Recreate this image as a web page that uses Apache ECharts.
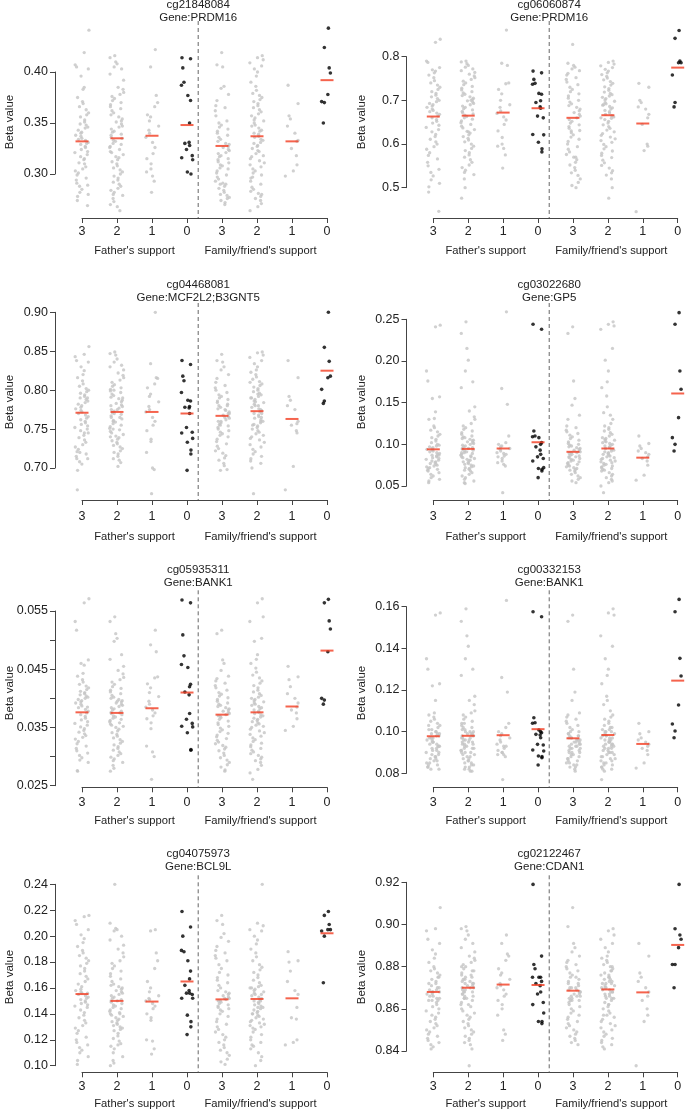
<!DOCTYPE html>
<html>
<head>
<meta charset="utf-8">
<script src="https://cdn.jsdelivr.net/npm/echarts@6/dist/echarts.min.js"></script>
<style>
html,body{margin:0;padding:0;background:#fff;}
#chart{width:685px;height:1111px;}
</style>
</head>
<body>
<div id="chart"></div>
<script>
// ---------------- DATA ----------------
const X_LABELS = ["3", "2", "1", "0", "3", "2", "1", "0"];
const X_TITLES = ["Father's support", "Family/friend's support"];
const Y_TITLE = "Beta value";
const PROBES = ["cg21848084", "cg06060874", "cg04468081", "cg03022680", "cg05935311", "cg00332153", "cg04075973", "cg02122467"];
const GENES = ["Gene:PRDM16", "Gene:PRDM16", "Gene:MCF2L2;B3GNT5", "Gene:GP5", "Gene:BANK1", "Gene:BANK1", "Gene:BCL9L", "Gene:CDAN1"];
const Y_MIN = [0.30, 0.5, 0.70, 0.05, 0.025, 0.08, 0.10, 0.84];
const Y_MAX = [0.40, 0.8, 0.90, 0.25, 0.055, 0.16, 0.24, 0.92];
const Y_STEP = [0.05, 0.1, 0.05, 0.05, 0.005, 0.02, 0.02, 0.02];
const Y_DEC = [2, 1, 2, 2, 3, 2, 2, 2];
const Y_LABEL_EVERY = [1, 1, 1, 1, 2, 1, 1, 1];

// Panel 1: cg21848084
const P1_F3 = [0.441,0.419,0.407,0.405,0.403,0.396,0.385,0.383,0.375,0.371,0.369,0.366,0.363,0.36,0.358,0.356,0.353,0.351,0.349,0.348,0.346,0.345,0.343,0.341,0.34,0.338,0.337,0.335,0.334,0.333,0.331,0.33,0.329,0.327,0.326,0.324,0.322,0.321,0.319,0.317,0.315,0.314,0.311,0.31,0.307,0.305,0.303,0.301,0.299,0.296,0.294,0.291,0.289,0.288,0.285,0.282,0.28,0.278,0.274,0.269];
const P1_F2 = [0.416,0.414,0.41,0.408,0.405,0.403,0.398,0.392,0.385,0.383,0.38,0.378,0.376,0.374,0.372,0.37,0.368,0.366,0.364,0.362,0.36,0.358,0.356,0.354,0.352,0.351,0.349,0.347,0.346,0.344,0.342,0.341,0.339,0.338,0.336,0.335,0.333,0.332,0.33,0.329,0.327,0.326,0.324,0.322,0.321,0.319,0.317,0.316,0.314,0.312,0.31,0.308,0.306,0.304,0.302,0.3,0.298,0.296,0.294,0.292,0.29,0.288,0.286,0.284,0.282,0.28,0.279,0.276,0.273,0.27,0.268,0.264];
const P1_F1 = [0.422,0.405,0.377,0.37,0.366,0.358,0.356,0.352,0.347,0.343,0.34,0.336,0.331,0.326,0.32,0.315,0.31,0.305,0.302,0.298,0.293,0.282];
const P1_F0 = [0.414,0.413,0.404,0.39,0.387,0.377,0.372,0.35,0.33,0.331,0.328,0.324,0.318,0.316,0.314,0.302,0.3];
const P1_S3 = [0.419,0.407,0.405,0.386,0.384,0.378,0.372,0.367,0.365,0.362,0.357,0.352,0.35,0.348,0.346,0.344,0.342,0.34,0.338,0.336,0.334,0.332,0.33,0.329,0.327,0.326,0.324,0.323,0.321,0.32,0.318,0.317,0.315,0.314,0.312,0.311,0.309,0.308,0.306,0.305,0.303,0.301,0.299,0.297,0.295,0.293,0.291,0.29,0.288,0.286,0.284,0.282,0.28,0.279,0.277,0.276,0.274,0.272,0.27,0.29];
const P1_S2 = [0.416,0.414,0.412,0.409,0.406,0.403,0.4,0.396,0.39,0.386,0.382,0.379,0.377,0.375,0.373,0.371,0.369,0.367,0.365,0.363,0.361,0.359,0.357,0.355,0.353,0.352,0.35,0.348,0.347,0.345,0.343,0.342,0.34,0.339,0.337,0.336,0.334,0.333,0.331,0.33,0.328,0.327,0.325,0.323,0.322,0.32,0.318,0.317,0.315,0.313,0.311,0.309,0.307,0.305,0.303,0.301,0.299,0.296,0.293,0.29,0.287,0.285,0.283,0.281,0.28,0.278,0.276,0.274,0.271,0.268,0.264,0.297];
const P1_S1 = [0.387,0.369,0.357,0.354,0.347,0.34,0.333,0.332,0.325,0.318,0.309,0.303,0.298];
const P1_S0 = [0.443,0.424,0.404,0.399,0.378,0.371,0.37,0.35];
const P1_MEAN = [0.332, 0.335, 0.3375, 0.348, 0.3275, 0.337, 0.332, 0.392];

// Panel 2: cg06060874
const P2_F3 = [0.84,0.833,0.79,0.787,0.775,0.77,0.767,0.763,0.758,0.752,0.745,0.74,0.735,0.73,0.725,0.72,0.716,0.712,0.708,0.704,0.7,0.697,0.693,0.69,0.687,0.684,0.68,0.677,0.674,0.671,0.668,0.664,0.66,0.656,0.652,0.648,0.643,0.638,0.633,0.628,0.622,0.617,0.611,0.605,0.6,0.594,0.588,0.58,0.574,0.566,0.558,0.55,0.542,0.535,0.527,0.518,0.51,0.502,0.49,0.446];
const P2_F2 = [0.79,0.788,0.784,0.78,0.776,0.772,0.768,0.764,0.76,0.756,0.752,0.748,0.744,0.74,0.736,0.732,0.728,0.724,0.72,0.717,0.714,0.711,0.708,0.705,0.702,0.699,0.696,0.693,0.69,0.687,0.684,0.681,0.678,0.675,0.672,0.669,0.666,0.663,0.66,0.657,0.653,0.649,0.645,0.641,0.637,0.633,0.629,0.625,0.621,0.617,0.613,0.609,0.605,0.6,0.595,0.59,0.585,0.58,0.575,0.57,0.564,0.558,0.552,0.546,0.54,0.535,0.53,0.52,0.5,0.476,0.628,0.7];
const P2_F1 = [0.861,0.785,0.78,0.74,0.738,0.725,0.715,0.7,0.69,0.684,0.676,0.67,0.662,0.655,0.645,0.63,0.615,0.6,0.595,0.59,0.575,0.545];
const P2_F0 = [0.767,0.763,0.748,0.739,0.737,0.716,0.714,0.699,0.695,0.685,0.682,0.664,0.66,0.622,0.621,0.604,0.589,0.582];
const P2_S3 = [0.828,0.785,0.78,0.776,0.772,0.768,0.762,0.758,0.752,0.748,0.742,0.736,0.73,0.725,0.72,0.715,0.71,0.705,0.7,0.696,0.692,0.688,0.684,0.68,0.676,0.672,0.668,0.664,0.66,0.656,0.652,0.648,0.644,0.64,0.636,0.631,0.626,0.621,0.616,0.611,0.606,0.6,0.594,0.588,0.582,0.576,0.57,0.564,0.558,0.552,0.546,0.54,0.534,0.528,0.52,0.512,0.505,0.5,0.57,0.63];
const P2_S2 = [0.79,0.787,0.783,0.779,0.775,0.771,0.767,0.763,0.759,0.755,0.751,0.747,0.743,0.739,0.735,0.731,0.727,0.723,0.719,0.716,0.713,0.71,0.707,0.704,0.701,0.698,0.695,0.692,0.689,0.686,0.683,0.68,0.677,0.674,0.671,0.668,0.665,0.662,0.659,0.656,0.652,0.648,0.644,0.64,0.636,0.632,0.628,0.624,0.62,0.616,0.612,0.608,0.604,0.599,0.594,0.589,0.584,0.579,0.574,0.569,0.563,0.557,0.551,0.545,0.539,0.534,0.529,0.52,0.5,0.476,0.66,0.69];
const P2_S1 = [0.739,0.73,0.7,0.695,0.685,0.68,0.668,0.66,0.645,0.6,0.595,0.585,0.445];
const P2_S0 = [0.86,0.842,0.79,0.786,0.786,0.758,0.695,0.685];
const P2_MEAN = [0.663, 0.665, 0.672, 0.682, 0.660, 0.666, 0.647, 0.775];

// Panel 3: cg04468081
const P3_F3 = [0.856,0.846,0.843,0.838,0.836,0.83,0.825,0.82,0.816,0.812,0.808,0.805,0.802,0.8,0.798,0.796,0.794,0.792,0.79,0.788,0.786,0.784,0.782,0.78,0.778,0.776,0.774,0.772,0.77,0.768,0.766,0.764,0.762,0.76,0.758,0.756,0.754,0.752,0.75,0.748,0.745,0.742,0.739,0.736,0.733,0.73,0.727,0.724,0.721,0.718,0.715,0.712,0.712,0.708,0.705,0.72,0.745,0.697,0.672,0.79];
const P3_F2 = [0.849,0.847,0.845,0.84,0.836,0.832,0.83,0.826,0.822,0.819,0.816,0.813,0.81,0.807,0.805,0.803,0.801,0.799,0.797,0.795,0.793,0.791,0.789,0.787,0.785,0.783,0.781,0.779,0.777,0.775,0.773,0.771,0.769,0.767,0.765,0.763,0.761,0.759,0.757,0.755,0.753,0.751,0.749,0.747,0.745,0.743,0.741,0.739,0.737,0.735,0.733,0.731,0.729,0.727,0.725,0.722,0.72,0.718,0.715,0.712,0.71,0.707,0.702,0.78,0.77,0.76,0.79,0.75,0.8,0.74,0.775,0.765];
const P3_F1 = [0.9,0.834,0.816,0.815,0.808,0.803,0.795,0.792,0.785,0.779,0.775,0.772,0.765,0.76,0.755,0.748,0.737,0.734,0.72,0.7,0.698,0.667];
const P3_F0 = [0.838,0.833,0.818,0.812,0.797,0.787,0.786,0.779,0.778,0.777,0.77,0.752,0.746,0.745,0.738,0.733,0.723,0.718,0.697];
const P3_S3 = [0.846,0.838,0.836,0.83,0.826,0.82,0.815,0.81,0.806,0.803,0.8,0.797,0.794,0.792,0.79,0.788,0.786,0.784,0.782,0.78,0.778,0.776,0.774,0.772,0.77,0.768,0.766,0.764,0.762,0.76,0.758,0.756,0.754,0.752,0.75,0.748,0.746,0.744,0.742,0.74,0.737,0.734,0.731,0.728,0.725,0.722,0.719,0.716,0.713,0.71,0.706,0.703,0.697,0.698,0.77,0.78,0.76,0.775,0.765,0.755];
const P3_S2 = [0.849,0.848,0.845,0.842,0.838,0.834,0.83,0.826,0.823,0.82,0.817,0.814,0.811,0.808,0.806,0.804,0.802,0.8,0.798,0.796,0.794,0.792,0.79,0.788,0.786,0.784,0.782,0.78,0.778,0.776,0.774,0.772,0.77,0.768,0.766,0.764,0.762,0.76,0.758,0.756,0.754,0.752,0.75,0.748,0.746,0.744,0.742,0.74,0.738,0.736,0.733,0.73,0.727,0.724,0.721,0.718,0.715,0.712,0.709,0.706,0.7,0.667,0.79,0.78,0.77,0.76,0.785,0.775,0.765,0.795,0.81,0.755];
const P3_S1 = [0.838,0.816,0.792,0.787,0.78,0.775,0.76,0.757,0.755,0.748,0.745,0.702,0.672];
const P3_S0 = [0.9,0.855,0.837,0.818,0.816,0.801,0.786,0.783];
const P3_MEAN = [0.771, 0.772, 0.772, 0.770, 0.767, 0.773, 0.763, 0.825];

// Panel 4: cg03022680
const P4_F3 = [0.243,0.241,0.188,0.176,0.157,0.155,0.139,0.131,0.13,0.122,0.12,0.117,0.115,0.112,0.11,0.108,0.106,0.104,0.102,0.1,0.099,0.098,0.097,0.096,0.095,0.094,0.093,0.092,0.091,0.09,0.089,0.088,0.087,0.086,0.085,0.084,0.083,0.082,0.081,0.08,0.079,0.078,0.077,0.076,0.075,0.074,0.073,0.072,0.071,0.07,0.069,0.068,0.066,0.064,0.062,0.06,0.058,0.056,0.054,0.087];
const P4_F2 = [0.247,0.233,0.215,0.201,0.188,0.175,0.168,0.145,0.14,0.133,0.13,0.125,0.122,0.12,0.118,0.116,0.114,0.112,0.11,0.109,0.108,0.107,0.106,0.105,0.104,0.103,0.102,0.101,0.1,0.099,0.098,0.097,0.096,0.095,0.094,0.093,0.092,0.091,0.09,0.089,0.088,0.087,0.086,0.085,0.084,0.083,0.082,0.081,0.08,0.079,0.078,0.077,0.076,0.075,0.074,0.073,0.072,0.071,0.07,0.069,0.068,0.066,0.064,0.062,0.06,0.058,0.056,0.054,0.053,0.09,0.095,0.085];
const P4_F1 = [0.259,0.167,0.148,0.11,0.102,0.1,0.098,0.097,0.095,0.094,0.092,0.09,0.089,0.088,0.086,0.085,0.083,0.08,0.078,0.076,0.074,0.042];
const P4_F0 = [0.244,0.238,0.116,0.11,0.109,0.108,0.102,0.1,0.097,0.093,0.088,0.085,0.083,0.08,0.072,0.071,0.07,0.068,0.06];
const P4_S3 = [0.241,0.233,0.176,0.155,0.147,0.135,0.13,0.122,0.12,0.117,0.115,0.113,0.111,0.109,0.107,0.105,0.103,0.101,0.1,0.099,0.098,0.097,0.096,0.095,0.094,0.093,0.092,0.091,0.09,0.089,0.088,0.087,0.086,0.085,0.084,0.083,0.082,0.081,0.08,0.079,0.078,0.077,0.076,0.075,0.074,0.073,0.072,0.071,0.07,0.069,0.068,0.066,0.064,0.062,0.06,0.058,0.056,0.054,0.085,0.09];
const P4_S2 = [0.247,0.244,0.242,0.238,0.215,0.201,0.188,0.175,0.168,0.158,0.145,0.138,0.135,0.13,0.125,0.122,0.12,0.118,0.116,0.114,0.112,0.11,0.108,0.107,0.106,0.105,0.104,0.103,0.102,0.101,0.1,0.099,0.098,0.097,0.096,0.095,0.094,0.093,0.092,0.091,0.09,0.089,0.088,0.087,0.086,0.085,0.084,0.083,0.082,0.081,0.08,0.079,0.078,0.077,0.076,0.075,0.074,0.073,0.072,0.071,0.07,0.069,0.068,0.066,0.064,0.062,0.06,0.058,0.056,0.054,0.05,0.042];
const P4_S1 = [0.11,0.101,0.098,0.095,0.092,0.09,0.088,0.085,0.083,0.08,0.075,0.063,0.057];
const P4_S0 = [0.258,0.244,0.188,0.166,0.132,0.108,0.1,0.092];
const P4_MEAN = [0.094, 0.0945, 0.095, 0.1025, 0.091, 0.095, 0.084, 0.161];

// Panel 5: cg05935311
const P5_F3 = [0.0571,0.0564,0.0532,0.0517,0.0466,0.046,0.0457,0.0443,0.0438,0.0432,0.0428,0.0424,0.0421,0.0418,0.0415,0.0412,0.041,0.0408,0.0406,0.0404,0.0402,0.04,0.0398,0.0396,0.0394,0.0392,0.039,0.0387,0.0384,0.0381,0.0378,0.0375,0.0372,0.0369,0.0366,0.0363,0.036,0.0357,0.0354,0.0351,0.0348,0.0345,0.0342,0.0339,0.0336,0.0333,0.033,0.0326,0.0322,0.0318,0.0314,0.031,0.0306,0.0302,0.0298,0.0294,0.029,0.0275,0.0276,0.0385];
const P5_F2 = [0.054,0.0532,0.0511,0.0503,0.0498,0.0475,0.0467,0.0455,0.0448,0.0442,0.0436,0.0432,0.0428,0.0424,0.042,0.0417,0.0414,0.0411,0.0408,0.0405,0.0402,0.04,0.0398,0.0396,0.0394,0.0392,0.039,0.0388,0.0386,0.0384,0.0382,0.038,0.0378,0.0376,0.0374,0.0372,0.037,0.0368,0.0366,0.0364,0.0362,0.036,0.0358,0.0356,0.0354,0.0352,0.035,0.0347,0.0344,0.0341,0.0338,0.0335,0.0332,0.0329,0.0326,0.0323,0.032,0.0317,0.0314,0.0311,0.0308,0.0305,0.0302,0.0299,0.0296,0.0293,0.029,0.0285,0.028,0.0275,0.0395,0.0375];
const P5_F1 = [0.0517,0.0492,0.048,0.0437,0.0435,0.0425,0.0418,0.041,0.0403,0.0395,0.039,0.0385,0.038,0.0375,0.037,0.0365,0.0358,0.0348,0.0318,0.0308,0.03,0.0261];
const P5_F0 = [0.0569,0.0564,0.0509,0.0473,0.0458,0.0453,0.0424,0.042,0.0411,0.0406,0.0374,0.0364,0.0357,0.0352,0.0351,0.0341,0.0312,0.0311];
const P5_S3 = [0.0517,0.0511,0.0466,0.046,0.0448,0.0438,0.0434,0.043,0.0426,0.0422,0.0418,0.0414,0.041,0.0407,0.0404,0.0401,0.0398,0.0395,0.0392,0.039,0.0388,0.0386,0.0384,0.0382,0.038,0.0378,0.0376,0.0374,0.0372,0.037,0.0367,0.0364,0.0361,0.0358,0.0355,0.0352,0.0349,0.0346,0.0343,0.034,0.0337,0.0334,0.0331,0.0328,0.0325,0.0322,0.0319,0.0316,0.0313,0.031,0.0306,0.0302,0.0298,0.0294,0.029,0.0286,0.0282,0.0277,0.0275,0.0369];
const P5_S2 = [0.0571,0.0564,0.054,0.0532,0.0503,0.0498,0.0475,0.0467,0.046,0.0452,0.0445,0.044,0.0435,0.043,0.0426,0.0422,0.0418,0.0414,0.0411,0.0408,0.0405,0.0402,0.04,0.0398,0.0396,0.0394,0.0392,0.039,0.0388,0.0386,0.0384,0.0382,0.038,0.0378,0.0376,0.0374,0.0372,0.037,0.0368,0.0366,0.0364,0.0362,0.036,0.0358,0.0356,0.0354,0.0352,0.035,0.0347,0.0344,0.0341,0.0338,0.0335,0.0332,0.0329,0.0326,0.0323,0.032,0.0317,0.0314,0.0311,0.0308,0.0305,0.0302,0.0299,0.0296,0.0293,0.029,0.0285,0.0278,0.0272,0.0261];
const P5_S1 = [0.0455,0.0437,0.0432,0.042,0.0408,0.04,0.0392,0.0385,0.038,0.0375,0.0365,0.0352,0.0345];
const P5_S0 = [0.057,0.0564,0.0533,0.0519,0.048,0.04,0.0397,0.039];
const P5_MEAN = [0.0376, 0.0375, 0.0383, 0.041, 0.0372, 0.0376, 0.0386, 0.0482];

// Panel 6: cg00332153
const P6_F3 = [0.157,0.156,0.135,0.13,0.123,0.122,0.115,0.109,0.108,0.107,0.106,0.105,0.104,0.103,0.102,0.101,0.1,0.1,0.099,0.099,0.098,0.098,0.097,0.097,0.096,0.096,0.095,0.095,0.094,0.094,0.093,0.093,0.092,0.092,0.091,0.091,0.09,0.09,0.089,0.089,0.088,0.088,0.087,0.087,0.086,0.086,0.085,0.085,0.084,0.084,0.083,0.083,0.082,0.082,0.095,0.097,0.099,0.101,0.103,0.093];
const P6_F2 = [0.159,0.153,0.146,0.141,0.135,0.13,0.127,0.117,0.115,0.113,0.11,0.109,0.108,0.107,0.106,0.105,0.104,0.103,0.102,0.102,0.101,0.101,0.1,0.1,0.099,0.099,0.098,0.098,0.097,0.097,0.096,0.096,0.095,0.095,0.094,0.094,0.093,0.093,0.092,0.092,0.091,0.091,0.09,0.09,0.089,0.089,0.088,0.088,0.087,0.087,0.086,0.086,0.085,0.085,0.084,0.084,0.083,0.083,0.082,0.082,0.081,0.081,0.096,0.098,0.1,0.094,0.092,0.104,0.09,0.097,0.095,0.099];
const P6_F1 = [0.163,0.126,0.119,0.104,0.102,0.1,0.099,0.098,0.097,0.096,0.095,0.094,0.093,0.093,0.092,0.091,0.09,0.09,0.089,0.089,0.088,0.077];
const P6_F0 = [0.1576,0.1552,0.1067,0.1043,0.104,0.1008,0.0995,0.1,0.0987,0.0984,0.0971,0.0939,0.0936,0.0912,0.0907,0.0883,0.088,0.0875,0.084];
const P6_S3 = [0.156,0.153,0.13,0.119,0.115,0.109,0.108,0.107,0.106,0.105,0.104,0.103,0.102,0.101,0.1,0.1,0.099,0.099,0.098,0.098,0.097,0.097,0.096,0.096,0.095,0.095,0.094,0.094,0.093,0.093,0.092,0.092,0.091,0.091,0.09,0.09,0.089,0.089,0.088,0.088,0.087,0.087,0.086,0.086,0.085,0.085,0.084,0.084,0.083,0.083,0.082,0.081,0.094,0.096,0.092,0.098,0.09,0.095,0.093,0.097];
const P6_S2 = [0.159,0.157,0.156,0.146,0.141,0.135,0.13,0.127,0.123,0.117,0.115,0.113,0.11,0.108,0.107,0.106,0.105,0.104,0.103,0.102,0.102,0.101,0.101,0.1,0.1,0.099,0.099,0.098,0.098,0.097,0.097,0.096,0.096,0.095,0.095,0.094,0.094,0.093,0.093,0.092,0.092,0.091,0.091,0.09,0.09,0.089,0.089,0.088,0.088,0.087,0.087,0.086,0.086,0.085,0.085,0.084,0.084,0.083,0.083,0.082,0.082,0.081,0.077,0.096,0.094,0.092,0.098,0.1,0.09,0.095,0.097,0.093];
const P6_S1 = [0.104,0.1,0.099,0.097,0.096,0.095,0.094,0.093,0.092,0.091,0.089,0.085,0.0825];
const P6_S0 = [0.1635,0.1576,0.1352,0.1267,0.1128,0.1037,0.1003,0.0971];
const P6_MEAN = [0.0978, 0.098, 0.0983, 0.1012, 0.0968, 0.0984, 0.0941, 0.1245];

// Panel 7: cg04075973
const P7_F3 = [0.216,0.215,0.212,0.209,0.205,0.201,0.198,0.195,0.192,0.189,0.187,0.185,0.183,0.181,0.179,0.177,0.175,0.173,0.171,0.169,0.167,0.165,0.163,0.161,0.159,0.158,0.157,0.156,0.155,0.154,0.153,0.152,0.151,0.15,0.149,0.148,0.147,0.146,0.145,0.143,0.141,0.139,0.137,0.135,0.133,0.131,0.129,0.127,0.125,0.122,0.12,0.118,0.116,0.114,0.112,0.11,0.107,0.104,0.101,0.156];
const P7_F2 = [0.24,0.21,0.206,0.205,0.204,0.2,0.197,0.193,0.19,0.187,0.184,0.181,0.179,0.177,0.175,0.173,0.171,0.169,0.167,0.165,0.163,0.162,0.161,0.16,0.159,0.158,0.157,0.156,0.155,0.154,0.153,0.152,0.151,0.15,0.149,0.148,0.147,0.146,0.145,0.144,0.143,0.142,0.141,0.14,0.139,0.138,0.137,0.136,0.135,0.134,0.133,0.132,0.131,0.13,0.129,0.128,0.127,0.125,0.123,0.121,0.119,0.117,0.116,0.115,0.113,0.11,0.107,0.104,0.102,0.1,0.15,0.14];
const P7_F1 = [0.205,0.204,0.187,0.181,0.175,0.165,0.16,0.157,0.154,0.152,0.151,0.15,0.148,0.146,0.144,0.14,0.137,0.135,0.12,0.119,0.113,0.109];
const P7_F0 = [0.219,0.207,0.2,0.188,0.189,0.181,0.173,0.167,0.162,0.158,0.156,0.156,0.155,0.152,0.152,0.139,0.134,0.13,0.124];
const P7_S3 = [0.216,0.212,0.209,0.202,0.199,0.196,0.192,0.189,0.187,0.185,0.183,0.181,0.178,0.175,0.172,0.17,0.168,0.166,0.164,0.162,0.16,0.158,0.157,0.156,0.155,0.154,0.153,0.152,0.151,0.15,0.149,0.148,0.147,0.146,0.145,0.144,0.143,0.142,0.14,0.138,0.136,0.134,0.132,0.13,0.128,0.126,0.124,0.122,0.12,0.118,0.116,0.114,0.112,0.11,0.108,0.105,0.103,0.101,0.152,0.15];
const P7_S2 = [0.24,0.21,0.208,0.205,0.204,0.2,0.197,0.194,0.19,0.187,0.184,0.181,0.178,0.176,0.174,0.172,0.17,0.168,0.166,0.164,0.162,0.161,0.16,0.159,0.158,0.157,0.156,0.155,0.154,0.153,0.152,0.151,0.15,0.149,0.148,0.147,0.146,0.145,0.144,0.143,0.142,0.141,0.14,0.139,0.138,0.137,0.136,0.135,0.134,0.133,0.132,0.131,0.13,0.129,0.128,0.126,0.124,0.122,0.12,0.118,0.116,0.115,0.113,0.11,0.107,0.104,0.1,0.15,0.155,0.145,0.16,0.14];
const P7_S1 = [0.188,0.181,0.18,0.173,0.165,0.158,0.155,0.145,0.137,0.136,0.12,0.118,0.116];
const P7_S0 = [0.219,0.216,0.209,0.205,0.205,0.204,0.2,0.164];
const P7_MEAN = [0.1553, 0.150, 0.1495, 0.165, 0.1512, 0.1515, 0.152, 0.2022];

// Panel 8: cg02122467
const P8_F3 = [0.908,0.898,0.897,0.893,0.891,0.888,0.886,0.884,0.882,0.88,0.879,0.878,0.877,0.876,0.875,0.874,0.873,0.872,0.871,0.87,0.87,0.869,0.869,0.868,0.868,0.867,0.867,0.866,0.866,0.865,0.865,0.864,0.864,0.863,0.862,0.861,0.86,0.859,0.858,0.857,0.856,0.855,0.854,0.853,0.852,0.851,0.85,0.849,0.848,0.847,0.846,0.845,0.844,0.843,0.842,0.841,0.868,0.872,0.864,0.875];
const P8_F2 = [0.899,0.898,0.897,0.895,0.893,0.891,0.889,0.887,0.885,0.884,0.883,0.882,0.881,0.88,0.879,0.878,0.877,0.876,0.875,0.874,0.874,0.873,0.873,0.872,0.872,0.871,0.871,0.87,0.87,0.869,0.869,0.868,0.868,0.867,0.867,0.866,0.866,0.865,0.865,0.864,0.863,0.862,0.861,0.86,0.859,0.858,0.857,0.856,0.855,0.854,0.853,0.852,0.851,0.85,0.849,0.848,0.847,0.846,0.845,0.844,0.843,0.841,0.833,0.87,0.875,0.868,0.878,0.865,0.872,0.88,0.862,0.876];
const P8_F1 = [0.895,0.891,0.886,0.885,0.883,0.879,0.877,0.876,0.874,0.872,0.871,0.87,0.869,0.867,0.866,0.864,0.862,0.86,0.857,0.85,0.848,0.845];
const P8_F0 = [0.919,0.885,0.881,0.879,0.875,0.875,0.873,0.875,0.872,0.871,0.868,0.867,0.863,0.862,0.858,0.854,0.854,0.853];
const P8_S3 = [0.908,0.899,0.891,0.889,0.887,0.885,0.883,0.882,0.881,0.88,0.879,0.878,0.877,0.876,0.875,0.874,0.873,0.872,0.871,0.87,0.87,0.869,0.869,0.868,0.868,0.867,0.867,0.866,0.866,0.865,0.865,0.864,0.864,0.863,0.862,0.861,0.86,0.859,0.858,0.857,0.856,0.855,0.854,0.853,0.852,0.851,0.85,0.849,0.848,0.847,0.846,0.845,0.844,0.843,0.868,0.872,0.864,0.875,0.87,0.866];
const P8_S2 = [0.898,0.897,0.895,0.893,0.891,0.889,0.887,0.885,0.884,0.883,0.882,0.881,0.88,0.879,0.878,0.877,0.876,0.875,0.874,0.874,0.873,0.873,0.872,0.872,0.871,0.871,0.87,0.87,0.869,0.869,0.868,0.868,0.867,0.867,0.866,0.866,0.865,0.865,0.864,0.863,0.862,0.861,0.86,0.859,0.858,0.857,0.856,0.855,0.854,0.853,0.852,0.851,0.85,0.849,0.848,0.847,0.846,0.845,0.844,0.843,0.842,0.841,0.87,0.875,0.868,0.878,0.865,0.872,0.88,0.862,0.876,0.857];
const P8_S1 = [0.891,0.885,0.877,0.875,0.873,0.87,0.868,0.866,0.864,0.86,0.857,0.854,0.833];
const P8_S0 = [0.919,0.898,0.895,0.893,0.889,0.881,0.881,0.87];
const P8_MEAN = [0.868, 0.870, 0.8715, 0.8713, 0.8686, 0.8692, 0.8678, 0.8903];

const GROUPS = [
  [P1_F3, P1_F2, P1_F1, P1_F0, P1_S3, P1_S2, P1_S1, P1_S0],
  [P2_F3, P2_F2, P2_F1, P2_F0, P2_S3, P2_S2, P2_S1, P2_S0],
  [P3_F3, P3_F2, P3_F1, P3_F0, P3_S3, P3_S2, P3_S1, P3_S0],
  [P4_F3, P4_F2, P4_F1, P4_F0, P4_S3, P4_S2, P4_S1, P4_S0],
  [P5_F3, P5_F2, P5_F1, P5_F0, P5_S3, P5_S2, P5_S1, P5_S0],
  [P6_F3, P6_F2, P6_F1, P6_F0, P6_S3, P6_S2, P6_S1, P6_S0],
  [P7_F3, P7_F2, P7_F1, P7_F0, P7_S3, P7_S2, P7_S1, P7_S0],
  [P8_F3, P8_F2, P8_F1, P8_F0, P8_S3, P8_S2, P8_S1, P8_S0]
];
const MEANS = [P1_MEAN, P2_MEAN, P3_MEAN, P4_MEAN, P5_MEAN, P6_MEAN, P7_MEAN, P8_MEAN];
const BLACK_GROUPS = [3, 7]; // the two "0" groups drawn in black
const SEPARATOR_AT = 4.32;
const X_TITLE_AT = [2.5, 6.1];

// ---------------- LAYOUT (pixels) ----------------
const FONT = "'Liberation Sans', Arial, Helvetica, sans-serif";
const COL = [
  { cat1: 82, cat8: 327, axisGap: 27, ylabX: 10 },
  { cat1: 433.3, cat8: 677.7, axisGap: 26.8, ylabX: 361.5 }
];
const ROW = [
  { top: [72, 56.7], bot: [174, 187.7], axis: 218, title: 5, xlab: 251, ylab: 122, tickLab: 232 },
  { top: [312.3, 319.3], bot: [468, 486], axis: 500, title: 285, xlab: 537, ylab: 402, tickLab: 516.5 },
  { top: [611, 606.7], bot: [785.7, 773.3], axis: 787.3, title: 570, xlab: 821, ylab: 693, tickLab: 803 },
  { top: [884.3, 882.3], bot: [1065.7, 1051], axis: 1072.3, title: 854, xlab: 1104, ylab: 977, tickLab: 1086.5 }
];
const PLOT_H = 197;

const chart = echarts.init(document.getElementById('chart'), null, { renderer: 'canvas' });

// deterministic horizontal spread of points inside a group (quadratic Weyl sequence)
function jitter(i, g, w) {
  const n = i + 1;
  const f = (n * 0.6180339887 + n * n * 0.7071067812 * 0.5 + g * 0.377) % 1;
  return (2 * f - 1) * w;
}

const grids = [], xAxes = [], yAxes = [], series = [];
for (let k = 0; k < 8; k++) {
  const r = Math.floor(k / 2), c = k % 2;
  const L = COL[c], R = ROW[r];
  const top = R.top[c], bot = R.bot[c];
  grids.push({ left: L.cat1, width: L.cat8 - L.cat1, top: top, height: bot - top, containLabel: false });
  xAxes.push({
    gridIndex: k, type: 'value', min: 1, max: 8, interval: 1,
    offset: R.axis - bot,
    axisLine: { show: true, lineStyle: { color: '#444', width: 1 } },
    axisTick: { show: true, length: 5, lineStyle: { color: '#444' } },
    axisLabel: { show: true, margin: R.tickLab - R.axis - 6.5, fontSize: 12.5, color: '#222', fontFamily: FONT,
      formatter: v => X_LABELS[Math.round(v) - 1] || '' },
    splitLine: { show: false }
  });
  const every = Y_LABEL_EVERY[k], dec = Y_DEC[k], mn = Y_MIN[k], st = Y_STEP[k];
  yAxes.push({
    gridIndex: k, type: 'value', min: Y_MIN[k], max: Y_MAX[k], interval: Y_STEP[k],
    offset: L.axisGap,
    axisLine: { show: true, lineStyle: { color: '#444', width: 1 } },
    axisTick: { show: true, length: 5, lineStyle: { color: '#444' } },
    axisLabel: { show: true, margin: 7, fontSize: 12.5, color: '#222', fontFamily: FONT, showMinLabel: true, showMaxLabel: true,
      formatter: v => (Math.round((v - mn) / st) % every === 0) ? v.toFixed(dec) : '' },
    splitLine: { show: false }
  });
  const gray = [], black = [];
  GROUPS[k].forEach((vals, g) => {
    const isBlack = BLACK_GROUPS.indexOf(g) >= 0;
    const w = isBlack ? 0.18 : 0.21;
    vals.forEach((v, i) => {
      const pt = [g + 1 + jitter(i, g, w), v];
      (isBlack ? black : gray).push(pt);
    });
  });
  series.push({ type: 'scatter', xAxisIndex: k, yAxisIndex: k, data: gray, symbolSize: 3.3, clip: false, silent: true,
    itemStyle: { color: '#c4c4c4' }, z: 2, animation: false });
  series.push({ type: 'scatter', xAxisIndex: k, yAxisIndex: k, data: black, symbolSize: 3.6, clip: false, silent: true,
    itemStyle: { color: '#000' }, z: 3, animation: false });
  series.push({ type: 'scatter', xAxisIndex: k, yAxisIndex: k, data: MEANS[k].map((m, g) => [g + 1, m]),
    symbol: 'rect', symbolSize: [13, 2], clip: false, silent: true,
    itemStyle: { color: '#f23c20' }, z: 4, animation: false });
}

chart.setOption({
  backgroundColor: '#fff',
  animation: false,
  grid: grids, xAxis: xAxes, yAxis: yAxes, series: series
});

// decorations placed through the axes' own scales
const graphics = [];
for (let k = 0; k < 8; k++) {
  const r = Math.floor(k / 2), c = k % 2;
  const L = COL[c], R = ROW[r];
  const fin = { xAxisIndex: k, yAxisIndex: k };
  const xSep = chart.convertToPixel(fin, [SEPARATOR_AT, Y_MIN[k]])[0];
  graphics.push({ type: 'line', silent: true, z: 1,
    shape: { x1: xSep, y1: R.axis - PLOT_H, x2: xSep, y2: R.axis },
    style: { stroke: '#666', lineWidth: 1, lineDash: [4, 3] } });
  graphics.push({ type: 'text', silent: true, x: xSep, y: R.title,
    style: { text: PROBES[k], font: '11.5px ' + FONT, fill: '#222', textAlign: 'center', textVerticalAlign: 'middle' } });
  graphics.push({ type: 'text', silent: true, x: xSep, y: R.title + 13,
    style: { text: GENES[k], font: '11.5px ' + FONT, fill: '#222', textAlign: 'center', textVerticalAlign: 'middle' } });
  X_TITLES.forEach((t, j) => {
    const xx = chart.convertToPixel(fin, [X_TITLE_AT[j], Y_MIN[k]])[0];
    graphics.push({ type: 'text', silent: true, x: xx, y: R.xlab,
      style: { text: t, font: '11.2px ' + FONT, fill: '#222', textAlign: 'center', textVerticalAlign: 'middle' } });
  });
  graphics.push({ type: 'text', silent: true, x: L.ylabX, y: R.ylab, rotation: Math.PI / 2,
    style: { text: Y_TITLE, font: '11.5px ' + FONT, fill: '#222', textAlign: 'center', textVerticalAlign: 'middle' } });
}
chart.setOption({ graphic: graphics });
</script>
</body>
</html>
